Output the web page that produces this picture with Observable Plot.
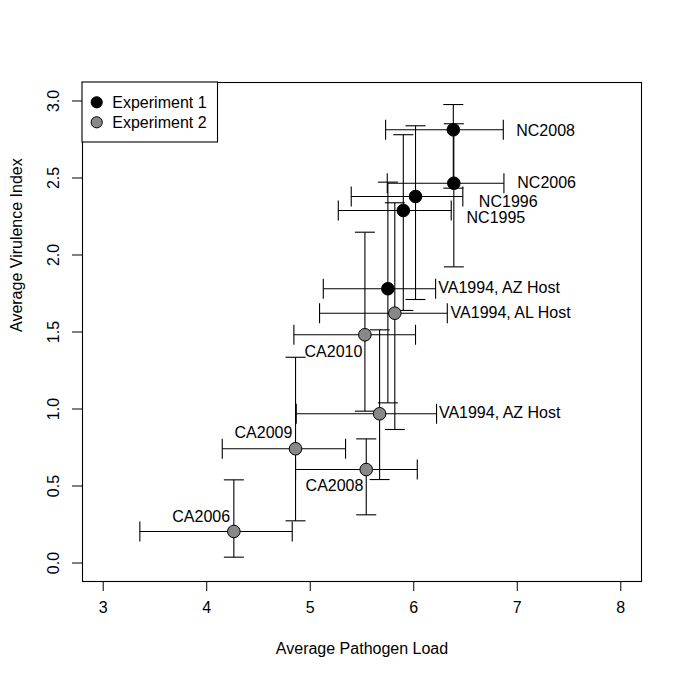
<!DOCTYPE html>
<html>
<head>
<meta charset="utf-8">
<script src="https://cdn.jsdelivr.net/npm/d3@7"></script>
<script src="https://cdn.jsdelivr.net/npm/@observablehq/plot@0.6"></script>
<style>
  body { margin: 0; background: #fff; }
  #chart svg { display: block; }
</style>
</head>
<body>
<div id="chart"></div>
<script>
// ---- Data ----
const isolates   = ["NC2008", "NC2006", "NC1996", "NC1995", "VA1994, AZ Host",
                    "VA1994, AL Host", "CA2010", "VA1994, AZ Host", "CA2009", "CA2008", "CA2006"];
const experiment = [1, 1, 1, 1, 1, 2, 2, 2, 2, 2, 2];
const loadMean   = [6.382, 6.387, 6.017, 5.899, 5.750, 5.817, 5.528, 5.670, 4.858, 5.541, 4.262];
const loadLow    = [5.728, 5.744, 5.396, 5.271, 5.126, 5.090, 4.842, 4.865, 4.150, 4.858, 3.354];
const loadHigh   = [6.865, 6.871, 6.474, 6.362, 6.211, 6.324, 6.017, 6.220, 5.341, 6.034, 4.826];
const virMean    = [2.813, 2.466, 2.380, 2.289, 1.781, 1.622, 1.482, 0.969, 0.742, 0.607, 0.205];
const virLow     = [2.434, 1.923, 1.711, 1.640, 1.040, 0.867, 0.986, 0.542, 0.274, 0.313, 0.038];
const virHigh    = [2.977, 2.852, 2.839, 2.781, 2.473, 2.339, 2.148, 1.514, 1.336, 0.806, 0.540];
const labelX     = [6.990, 7.000, 6.629, 6.510, 6.237, 6.356, 4.945, 6.243, 4.269, 4.955, 3.667];
const labelY     = [2.804, 2.466, 2.347, 2.239, 1.787, 1.625, 1.369, 0.975, 0.843, 0.499, 0.297];
const xTicks = [3, 4, 5, 6, 7, 8];
const yTicks = [0, 0.5, 1, 1.5, 2, 2.5, 3];
const legendLabels = ["Experiment 1", "Experiment 2"];
const xTitle = "Average Pathogen Load";
const yTitle = "Average Virulence Index";

const fillFor = {1: "#000000", 2: "#888888"};

const data = isolates.map((name, i) => ({
  name, exp: experiment[i],
  x: loadMean[i], xlo: loadLow[i], xhi: loadHigh[i],
  y: virMean[i], ylo: virLow[i], yhi: virHigh[i],
  lx: labelX[i], ly: labelY[i]
}));

// Cap symbols for error bars
const hCap = {draw(ctx, size) { const r = Math.sqrt(size / Math.PI); ctx.moveTo(-r, 0); ctx.lineTo(r, 0); }};
const vCap = {draw(ctx, size) { const r = Math.sqrt(size / Math.PI); ctx.moveTo(0, -r); ctx.lineTo(0, r); }};

const FONT = "'Liberation Sans', Arial, Helvetica, sans-serif";
const barStyle = {stroke: "black", strokeWidth: 1.1};

const svg = Plot.plot({
  width: 683,
  height: 683,
  marginLeft: 82,
  marginRight: 42,
  marginTop: 82,
  marginBottom: 102,
  style: {fontFamily: FONT, fontSize: "16px", color: "black", background: "white"},
  x: {domain: [2.8, 8.2], axis: null},
  y: {domain: [-0.12, 3.12], axis: null},
  marks: [
    Plot.frame({stroke: "black", strokeWidth: 1.1}),
    Plot.axisX(xTicks, {tickSize: 10, tickPadding: 10, label: null, fontSize: 16, tickFormat: d => String(d)}),
    Plot.axisY(yTicks, {tickSize: 10, label: null, tickFormat: () => ""}),
    Plot.text(yTicks, {y: d => d, frameAnchor: "left", dx: -29, rotate: -90,
      text: d => d3.format(".1f")(d), textAnchor: "middle", lineAnchor: "middle", fontSize: 16}),
    Plot.text([xTitle], {frameAnchor: "bottom", dy: 67, text: d => d, lineAnchor: "middle", fontSize: 16}),
    Plot.text([yTitle], {frameAnchor: "left", dx: -66, rotate: -90, text: d => d, lineAnchor: "middle", fontSize: 16}),
    // horizontal error bars
    Plot.link(data, {x1: "xlo", x2: "xhi", y1: "y", y2: "y", ...barStyle}),
    Plot.dot(data, {x: "xlo", y: "y", symbol: vCap, r: 10, fill: "none", ...barStyle}),
    Plot.dot(data, {x: "xhi", y: "y", symbol: vCap, r: 10, fill: "none", ...barStyle}),
    // vertical error bars
    Plot.link(data, {x1: "x", x2: "x", y1: "ylo", y2: "yhi", ...barStyle}),
    Plot.dot(data, {x: "x", y: "ylo", symbol: hCap, r: 10, fill: "none", ...barStyle}),
    Plot.dot(data, {x: "x", y: "yhi", symbol: hCap, r: 10, fill: "none", ...barStyle}),
    // points
    Plot.dot(data, {x: "x", y: "y", r: 6.3, fill: d => fillFor[d.exp], stroke: "black", strokeWidth: 1}),
    // labels
    Plot.text(data, {x: "lx", y: "ly", text: "name", textAnchor: "start", lineAnchor: "middle", fontSize: 16, fill: "black"})
  ]
});

// Legend (top-left inside the plot box)
const lg = d3.select(svg).append("g").attr("font-family", FONT).attr("font-size", 16)
  .attr("text-anchor", "start");
lg.append("rect").attr("x", 82).attr("y", 82).attr("width", 135.5).attr("height", 60)
  .attr("fill", "white").attr("stroke", "black").attr("stroke-width", 1.1);
legendLabels.forEach((lab, i) => {
  const cy = 102.3 + i * 20;
  lg.append("circle").attr("cx", 96.7).attr("cy", cy).attr("r", 5.6)
    .attr("fill", fillFor[i + 1]).attr("stroke", "black").attr("stroke-width", 1);
  lg.append("text").attr("x", 112.3).attr("y", cy).attr("dy", "0.36em")
    .attr("text-anchor", "start").attr("fill", "black").text(lab);
});

document.getElementById("chart").appendChild(svg);
</script>
</body>
</html>
